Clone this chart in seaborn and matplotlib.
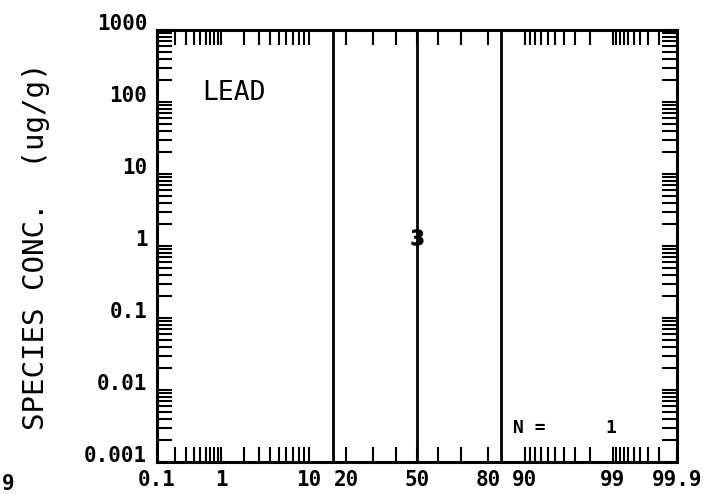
import numpy as np
import pandas as pd
import matplotlib
matplotlib.use('Agg')
import matplotlib.pyplot as plt
from matplotlib.ticker import NullFormatter
import seaborn as sb
from statistics import NormalDist

# Lead: one sample on a normal probability plot
prob = [50.0]           # cumulative probability (%)
conc = [1.35]           # species conc. (ug/g)
n_samples = 1

# reference lines at mean and +/- 1 sigma
sigma_lines = [15.87, 50.0, 84.13]

x_major = [0.1, 1, 10, 20, 50, 80, 90, 99, 99.9]
x_major_labels = ['0.1', '1', '10', '20', '50', '80', '90', '99', '99.9']
x_minor = ([0.2, 0.3, 0.4, 0.5, 0.6, 0.7, 0.8, 0.9]
           + [2, 3, 4, 5, 6, 7, 8, 9]
           + [30, 40, 60, 70]
           + [91, 92, 93, 94, 95, 96, 97, 98]
           + [99.1, 99.2, 99.3, 99.4, 99.5, 99.6, 99.7, 99.8])
y_major = [0.001, 0.01, 0.1, 1, 10, 100, 1000]
y_major_labels = ['0.001', '0.01', '0.1', '1', '10', '100', '1000']
y_minor = [m * 10.0 ** e for e in range(-3, 3) for m in range(2, 10)]

# probability scale
nd = NormalDist()
ppf = np.vectorize(nd.inv_cdf, otypes=[float])
cdf = np.vectorize(nd.cdf, otypes=[float])


def forward(p):
    p = np.clip(np.asarray(p, dtype=float), 1e-6, 100 - 1e-6)
    return ppf(p / 100)


def inverse(z):
    z = np.clip(np.asarray(z, dtype=float), -50, 50)
    return cdf(z) * 100


sb.set_style('ticks')
plt.rcParams['font.family'] = ['DejaVu Sans Mono', 'DejaVu Sans']

fig = plt.figure(figsize=(7.17, 4.99), dpi=100)
ax = fig.add_axes([0.219, 0.0741, 0.7252, 0.8657])
ax.set_xscale('function', functions=(forward, inverse))
ax.set_yscale('log')

for p in sigma_lines:
    ax.axvline(p, color='black', linewidth=2)

df = pd.DataFrame({'prob': prob, 'conc': conc})
sb.scatterplot(data=df, x='prob', y='conc', marker='$\\mathbf{3}$', s=130,
               color='black', edgecolor='black', linewidth=0.4, ax=ax, zorder=5)

ax.set_xlim(0.1, 99.9)
ax.set_ylim(0.001, 1000)

ax.set_xticks(x_major)
ax.set_xticklabels(x_major_labels)
ax.set_xticks(x_minor, minor=True)
ax.set_yticks(y_major)
ax.set_yticklabels(y_major_labels)
ax.set_yticks(y_minor, minor=True)
ax.xaxis.set_minor_formatter(NullFormatter())
ax.yaxis.set_minor_formatter(NullFormatter())

ax.tick_params(which='both', direction='in', top=True, right=True,
               length=11, width=1.5, color='black')
ax.tick_params(axis='x', which='major', labelsize=15, pad=6, labelcolor='black')
ax.tick_params(axis='y', which='major', labelsize=15, pad=7, labelcolor='black')
for lbl in ax.get_yticklabels():
    lbl.set_verticalalignment('baseline')
    lbl.set_fontweight('bold')
for lbl in ax.get_xticklabels():
    lbl.set_fontweight('bold')

for s in ax.spines.values():
    s.set_linewidth(2.2)
    s.set_color('black')

ax.set_xlabel('')
ax.set_ylabel('SPECIES CONC.  (ug/g)', fontsize=21, color='black')
ax.yaxis.set_label_coords(-0.206, 0.5)

ax.text(0.0865, 0.838, 'LEAD', transform=ax.transAxes, fontsize=19,
        va='baseline', color='black')
ax.text(0.685, 0.067, 'N =', transform=ax.transAxes, fontsize=13,
        fontweight='bold', va='baseline', color='black')
ax.text(0.873, 0.067, str(n_samples), transform=ax.transAxes, fontsize=13,
        fontweight='bold', va='baseline', ha='center', color='black')

# leftover label from the neighbouring panel
fig.text(0.002, 0.018, '9', fontsize=15, va='baseline', fontweight='bold',
         color='black')

plt.savefig('out.png', dpi=100)
